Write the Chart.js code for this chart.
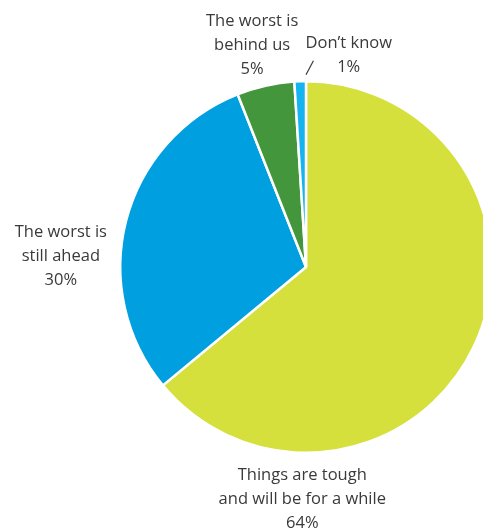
<!DOCTYPE html>
<html>
<head>
<meta charset="utf-8">
<script src="https://cdn.jsdelivr.net/npm/chart.js@4/dist/chart.umd.min.js"></script>
<style>
	html, body { margin: 0; padding: 0; background: #fff; overflow: hidden; }
	#wrap { width: 500px; height: 529px; }
</style>
</head>
<body>
<div id="wrap">
	<canvas id="myChart" width="500" height="529"></canvas>
</div>

<script>
	// survey answers, clockwise from 12 o'clock
	var categories = ['Things are tough and will be for a while', 'The worst is still ahead', 'The worst is behind us', 'Don\u2019t know'];
	var values = [64, 30, 5, 1];
	var colors = ['#d5e03c', '#009fdf', '#44963c', '#15b4f0'];

	// text shown next to each slice, one entry per line
	var labelLines = [
		['Things are tough', 'and will be for a while', '64%'],
		['The worst is', 'still ahead', '30%'],
		['The worst is', 'behind us', '5%'],
		['Don\u2019t know', '1%']
	];
	// where each label sits, in pie radii from the centre
	var labelPos = [[-0.02, 1.25], [-1.32, -0.06], [-0.29, -1.195], [0.23, -1.14]];

	var sliceLabels = {
		id: 'sliceLabels',
		afterDraw: function(chart) {
			var ctx = chart.ctx;
			var arc = chart.getDatasetMeta(0).data[0];
			var cx = arc.x, cy = arc.y, r = arc.outerRadius;
			var lh = 24;

			ctx.save();
			ctx.fillStyle = '#3a3a3a';
			ctx.font = '16.5px "Open Sans", sans-serif';
			ctx.textAlign = 'center';
			ctx.textBaseline = 'middle';
			labelLines.forEach(function(lines, i) {
				var x = cx + labelPos[i][0] * r;
				var y = cy + labelPos[i][1] * r - (lines.length - 1) * lh / 2;
				lines.forEach(function(t, j) {
					ctx.fillText(t, x, y + j * lh);
				});
			});

			// little leader for the 1% slice
			ctx.strokeStyle = '#3a3a3a';
			ctx.lineWidth = 1.2;
			ctx.beginPath();
			ctx.moveTo(cx + 0.0 * r, cy - 1.035 * r);
			ctx.lineTo(cx + 0.04 * r, cy - 1.11 * r);
			ctx.stroke();
			ctx.restore();
		}
	};

	var ctx = document.getElementById('myChart').getContext('2d');
	var myChart = new Chart(ctx, {
		type: 'pie',
		data: {
			labels: categories,
			datasets: [{
				data: values,
				backgroundColor: colors,
				borderColor: '#ffffff',
				borderWidth: 2.5
			}]
		},
		options: {
			responsive: false,
			animation: false,
			layout: { padding: { left: 119, right: 7, top: 80, bottom: 75 } },
			plugins: {
				legend: { display: false },
				tooltip: { enabled: false }
			}
		},
		plugins: [sliceLabels]
	});
</script>
</body>
</html>
